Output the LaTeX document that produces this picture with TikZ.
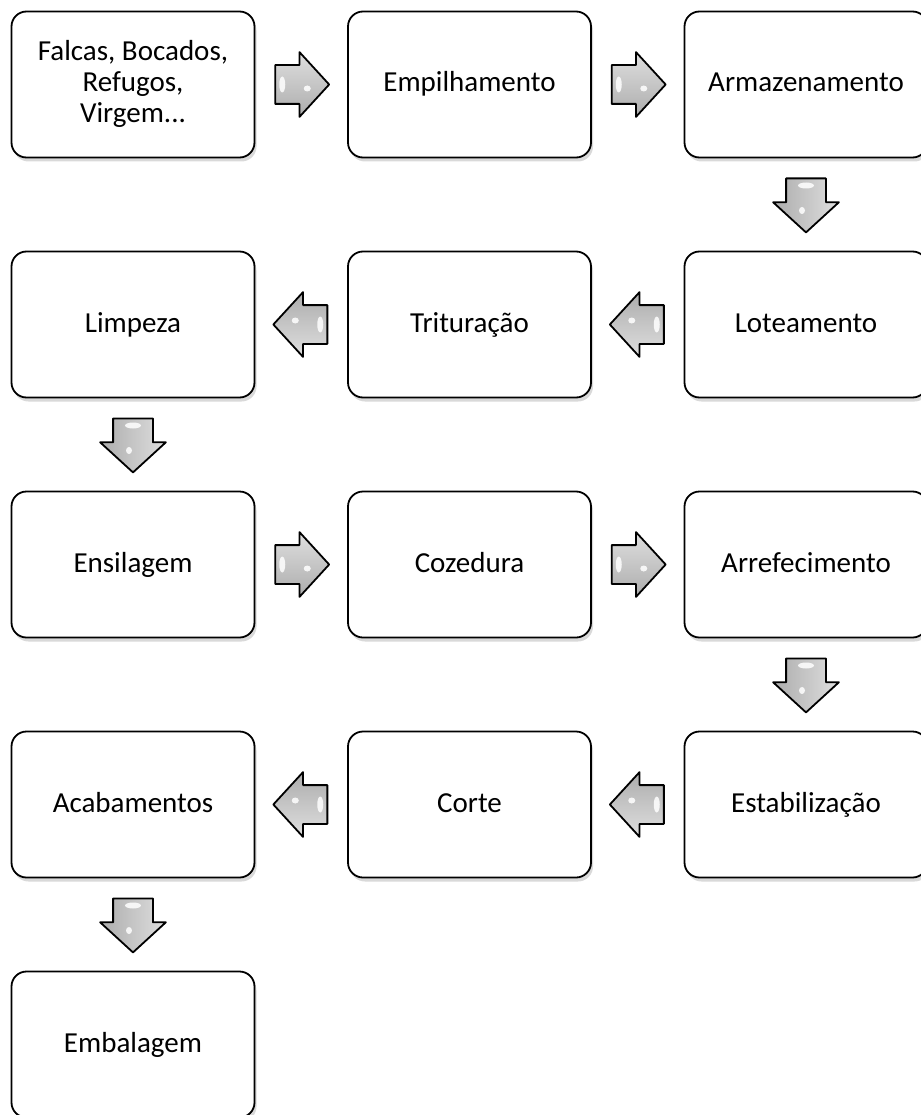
\documentclass[tikz,border=0pt]{standalone}
\usepackage{fontspec}
\setmainfont{Carlito}
\usetikzlibrary{shapes.arrows,positioning,calc,shadows}
\tikzset{
    block/.style = {draw, rectangle, rounded corners=15pt, line width=1.8pt, fill=white,
        minimum width=243pt, minimum height=146pt, outer sep=0pt, align=center,
        font=\fontsize{29}{31}\selectfont, execute at begin node={\rule[-7pt]{0pt}{29pt}},
        drop shadow={shadow xshift=2pt, shadow yshift=-4pt, opacity=.3, fill=gray}},
    fatarrow/.style = {draw, single arrow, line width=1.8pt, line join=round, anchor=tail,
        single arrow head extend=13pt, minimum height=54pt, single arrow tip angle=95,
        shape border rotate=#1,
        top color=gray!25, bottom color=gray!65, middle color=gray!45, shading angle=#1},
    rarrow/.style = {fatarrow=0, inner xsep=0pt, inner ysep=18.5pt},
    larrow/.style = {fatarrow=180, inner xsep=0pt, inner ysep=18.5pt},
    darrow/.style = {fatarrow=270, inner xsep=19pt, inner ysep=0pt},
}
% white glints on the grey arrows
\newcommand{\arrowshine}[2]{%
    \begin{scope}[shift={(#1.tail)}, rotate=#2, x=1pt, y=1pt]
        \fill[white, opacity=.85] (8,0) ellipse (3 and 8);
        \fill[white, opacity=.85] (33,-4) ellipse (3.5 and 3);
    \end{scope}}

\begin{document}
\begin{tikzpicture}[x=1pt, y=-1pt, node distance=94pt and 93.5pt]
    \useasboundingbox (0,0) rectangle (920,1115);
    % row 1
    \node[block] (raw) at (133,84.5) {Falcas, Bocados,\\Refugos,\\Virgem...};
    \node[block, right=of raw] (empilh) {Empilhamento};
    \node[block, right=of empilh] (armaz) {Armazenamento};
    % row 2
    \node[block, below=of armaz] (lote) {Loteamento};
    \node[block, left=of lote] (trit) {Trituração};
    \node[block, left=of trit] (limp) {Limpeza};
    % row 3
    \node[block, below=of limp] (ensil) {Ensilagem};
    \node[block, right=of ensil] (coz) {Cozedura};
    \node[block, right=of coz] (arref) {Arrefecimento};
    % row 4
    \node[block, below=of arref] (estab) {Estabilização};
    \node[block, left=of estab] (corte) {Corte};
    \node[block, left=of corte] (acab) {Acabamentos};
    % row 5
    \node[block, below=of acab] (embal) {Embalagem};

    % arrows between steps (tail placed half a length before the gap middle)
    \node[rarrow] (a1) at ($(raw)!0.5!(empilh)+(-27,0)$) {};
    \node[rarrow] (a2) at ($(empilh)!0.5!(armaz)+(-27,0)$) {};
    \node[darrow] (a3) at ($(armaz)!0.5!(lote)+(0,-27)$) {};
    \node[larrow] (a4) at ($(lote)!0.5!(trit)+(27,0)$) {};
    \node[larrow] (a5) at ($(trit)!0.5!(limp)+(27,0)$) {};
    \node[darrow] (a6) at ($(limp)!0.5!(ensil)+(0,-27)$) {};
    \node[rarrow] (a7) at ($(ensil)!0.5!(coz)+(-27,0)$) {};
    \node[rarrow] (a8) at ($(coz)!0.5!(arref)+(-27,0)$) {};
    \node[darrow] (a9) at ($(arref)!0.5!(estab)+(0,-27)$) {};
    \node[larrow] (a10) at ($(estab)!0.5!(corte)+(27,0)$) {};
    \node[larrow] (a11) at ($(corte)!0.5!(acab)+(27,0)$) {};
    \node[darrow] (a12) at ($(acab)!0.5!(embal)+(0,-27)$) {};

    \foreach \a/\r in {a1/0, a2/0, a3/270, a4/180, a5/180, a6/270,
                       a7/0, a8/0, a9/270, a10/180, a11/180, a12/270}
        \arrowshine{\a}{\r};
\end{tikzpicture}
\end{document}
